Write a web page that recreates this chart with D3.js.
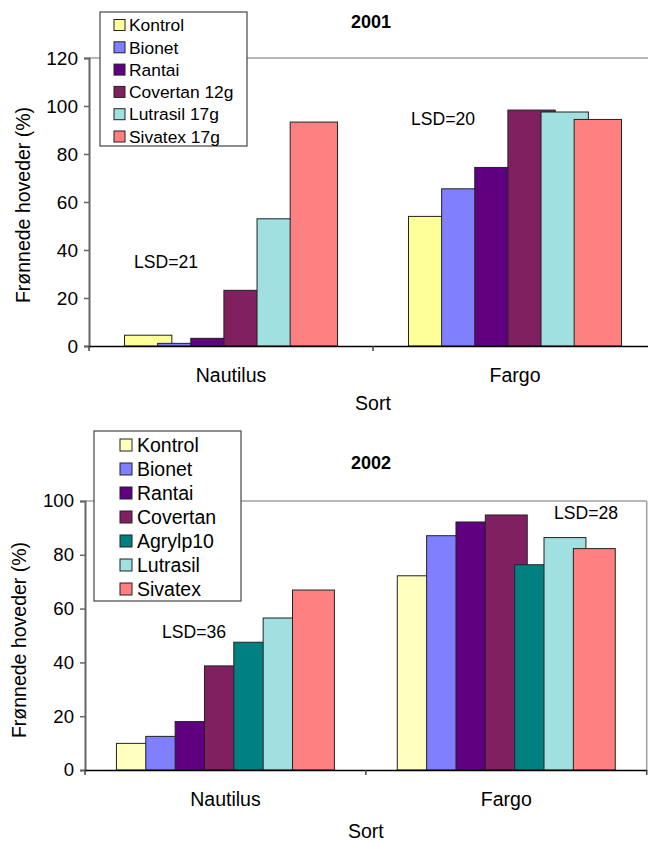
<!DOCTYPE html>
<html><head><meta charset="utf-8">
<script src="https://cdn.jsdelivr.net/npm/d3@7"></script>
<style>body{margin:0;background:#fff}svg{display:block;font-family:"Liberation Sans",Arial,sans-serif}</style>
</head><body>
<svg id="c" width="648" height="843"></svg>
<script>
const categories = ["Nautilus", "Fargo"];

const series2001 = ["Kontrol", "Bionet", "Rantai", "Covertan 12g", "Lutrasil 17g", "Sivatex 17g"];
const colors2001 = ["#FFFF99", "#8080FF", "#600080", "#802060", "#A0E0E0", "#FF8080"];
const nautilus2001 = [4.5, 1.1, 3.2, 23.2, 53.0, 93.3];
const fargo2001 = [54.0, 65.5, 74.4, 98.3, 97.5, 94.4];
const ticks2001 = [0, 20, 40, 60, 80, 100, 120];
const lsd2001 = ["LSD=21", "LSD=20"];

const series2002 = ["Kontrol", "Bionet", "Rantai", "Covertan", "Agrylp10", "Lutrasil", "Sivatex"];
const colors2002 = ["#FFFFC0", "#8080FF", "#600080", "#802060", "#008080", "#A0E0E0", "#FF8080"];
const nautilus2002 = [9.9, 12.5, 18.0, 38.7, 47.5, 56.5, 66.9];
const fargo2002 = [72.2, 87.1, 92.2, 94.8, 76.3, 86.4, 82.3];
const ticks2002 = [0, 20, 40, 60, 80, 100];
const lsd2002 = ["LSD=36", "LSD=28"];

const svg = d3.select("#c");

function chart(cfg) {
  const g = svg.append("g");
  const x = d3.scaleBand().domain(categories).range([cfg.x0, cfg.x1]).padding(0);
  const y = d3.scaleLinear().domain([0, cfg.ymax]).range([cfg.yb, cfg.yt]);
  const n = cfg.series.length;
  const overlap = 0.3, gap = 1.5;
  const w = x.bandwidth() / ((n - 1) * (1 - overlap) + 1 + gap);
  const step = w * (1 - overlap);
  const groupW = (n - 1) * step + w;
  const inner = d3.scaleLinear().domain([0, n - 1]).range([0, (n - 1) * step]);

  // top gridline & right border
  g.append("line").attr("x1", cfg.x0).attr("x2", cfg.x1).attr("y1", y(cfg.ymax)).attr("y2", y(cfg.ymax))
    .attr("stroke", "#a0a0a0").attr("stroke-width", 1.5);
  g.append("line").attr("x1", cfg.x1).attr("x2", cfg.x1).attr("y1", y(cfg.ymax)).attr("y2", y(0))
    .attr("stroke", "#a0a0a0").attr("stroke-width", 1.5);

  const data = [];
  categories.forEach((c, ci) => {
    cfg.values[ci].forEach((v, si) => data.push({c, si, v}));
  });
  g.selectAll("rect.bar").data(data).enter().append("rect")
    .attr("x", d => x(d.c) + (x.bandwidth() - groupW) / 2 + inner(d.si))
    .attr("width", w)
    .attr("y", d => y(d.v))
    .attr("height", d => y(0) - y(d.v))
    .attr("fill", d => cfg.colors[d.si])
    .attr("stroke", "#222").attr("stroke-width", 1);

  // y axis
  const ya = g.append("g").attr("transform", `translate(${cfg.x0},0)`)
    .call(d3.axisLeft(y).tickValues(cfg.ticks).tickSize(5).tickPadding(6));
  ya.select(".domain").attr("stroke", "#666").attr("stroke-width", 2);
  ya.selectAll(".tick line").attr("stroke", "#666").attr("stroke-width", 1.5);
  ya.selectAll("text").attr("font-size", cfg.tickFs).attr("fill", "#000").attr("font-family", "Liberation Sans, Arial, sans-serif");

  // x axis
  const xa = g.append("g").attr("transform", `translate(0,${y(0)})`)
    .call(d3.axisBottom(x).tickSize(0).tickPadding(22));
  xa.select(".domain").attr("stroke", "#000").attr("stroke-width", 1.5);
  xa.selectAll("text").attr("font-size", 19.5).attr("fill", "#000").attr("font-family", "Liberation Sans, Arial, sans-serif");
  const bounds = [cfg.x0, x(categories[1]), cfg.x1];
  g.selectAll("line.xt").data(bounds).enter().append("line")
    .attr("x1", d => d).attr("x2", d => d).attr("y1", y(0)).attr("y2", y(0) + 5)
    .attr("stroke", "#444").attr("stroke-width", 1.5);

  // axis titles
  g.append("text").attr("x", x(categories[1])).attr("y", cfg.sortY).attr("text-anchor", "middle")
    .attr("font-size", 19.5).text("Sort");
  g.append("text").attr("transform", `translate(${cfg.ylabX},${cfg.ylabY}) rotate(-90)`)
    .attr("text-anchor", "middle").attr("font-size", 19.5).text("Frønnede hoveder (%)");

  // title
  g.append("text").attr("x", cfg.titleX).attr("y", cfg.titleY).attr("text-anchor", "middle")
    .attr("font-size", 18).attr("font-weight", "bold").text(cfg.title);

  // LSD labels
  cfg.lsd.forEach((t, i) => {
    g.append("text").attr("x", cfg.lsdPos[i][0]).attr("y", cfg.lsdPos[i][1])
      .attr("font-size", 17.6).text(t);
  });

  // legend
  const L = cfg.legend;
  g.append("rect").attr("x", L.x).attr("y", L.y).attr("width", L.w).attr("height", L.h)
    .attr("fill", "#fff").attr("stroke", "#444").attr("stroke-width", 1.2);
  cfg.series.forEach((s, i) => {
    const cy = L.row0 + i * L.dy;
    g.append("rect").attr("x", L.sx).attr("y", cy - L.ss / 2).attr("width", L.ss).attr("height", L.ss)
      .attr("fill", cfg.colors[i]).attr("stroke", "#222").attr("stroke-width", 1);
    g.append("text").attr("x", L.tx).attr("y", cy).attr("dy", "0.36em")
      .attr("font-size", L.fs).text(s);
  });
}

chart({
  series: series2001, colors: colors2001, values: [nautilus2001, fargo2001],
  x0: 89, x1: 657, yt: 58, yb: 346, ymax: 120, ticks: ticks2001, tickFs: 19,
  sortY: 410, ylabX: 30, ylabY: 205, title: "2001", titleX: 371, titleY: 28,
  lsd: lsd2001, lsdPos: [[134, 268], [411, 125]],
  legend: {x: 100, y: 12, w: 147, h: 134, row0: 25, dy: 22.3, sx: 114, ss: 11, tx: 129, fs: 17.4}
});

chart({
  series: series2002, colors: colors2002, values: [nautilus2002, fargo2002],
  x0: 85, x1: 646.7, yt: 501, yb: 770, ymax: 100, ticks: ticks2002, tickFs: 18.6,
  sortY: 838, ylabX: 26, ylabY: 640, title: "2002", titleX: 371, titleY: 469,
  lsd: lsd2002, lsdPos: [[162, 638], [554, 519]],
  legend: {x: 94, y: 431, w: 147, h: 170, row0: 445, dy: 24, sx: 120, ss: 12, tx: 137, fs: 19.5}
});
</script>
</body></html>
